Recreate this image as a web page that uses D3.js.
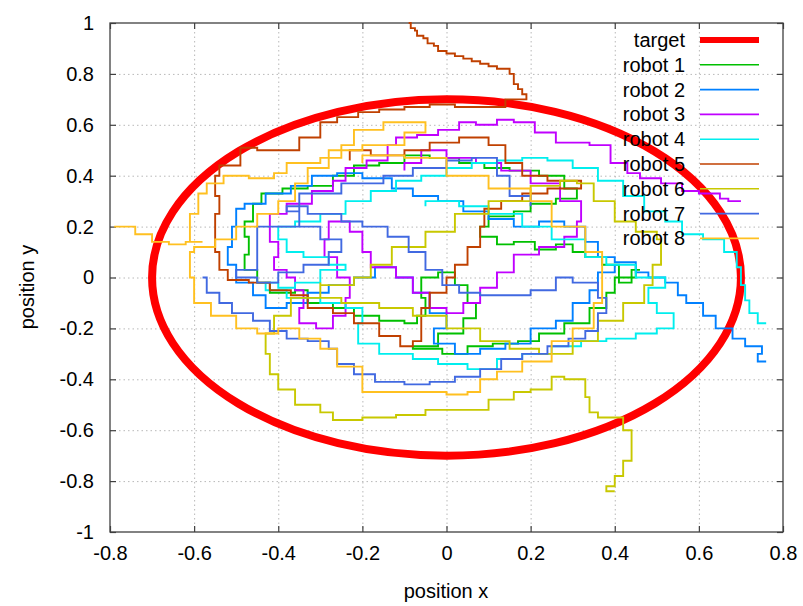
<!DOCTYPE html>
<meta charset="utf-8">
<style>
  body { margin: 0; background: #fff; }
  text { font-family: "Liberation Sans", Arial, sans-serif; font-size: 20px; fill: #000; }
</style>
<svg width="803" height="606"></svg>
<script src="https://d3js.org/d3.v7.min.js"></script>
<script>

var xTicks = [-0.8, -0.6, -0.4, -0.2, 0, 0.2, 0.4, 0.6, 0.8],
    yTicks = [-1, -0.8, -0.6, -0.4, -0.2, 0, 0.2, 0.4, 0.6, 0.8, 1];

var target = {cx: 0, cy: 0, r: 0.7};

var names = ["robot 1", "robot 2", "robot 3", "robot 4", "robot 5", "robot 6", "robot 7", "robot 8"],
    colors = ["#00c000", "#0080ff", "#c000ff", "#00eeee", "#c04000", "#c8c800", "#4169e1", "#ffc020"];

// trajectories (x, y)
var robot1 = [[0.46,0.03],[0.44,-0.02],[0.41,0.05],[0.37,0.08],[0.33,0.1],[0.3,0.13],[0.26,0.11],[0.21,0.14],[0.16,0.13],[0.12,0.16],[0.08,0.2],[0.1,0.24],[0.16,0.26],[0.2,0.29],[0.26,0.31],[0.31,0.35],[0.28,0.4],[0.22,0.42],[0.15,0.43],[0.09,0.45],[0.03,0.47],[-0.04,0.48],[-0.1,0.45],[-0.16,0.44],[-0.22,0.4],[-0.27,0.36],[-0.33,0.35],[-0.39,0.33],[-0.44,0.29],[-0.46,0.22],[-0.48,0.16],[-0.47,0.09],[-0.48,0.03],[-0.45,-0.02],[-0.42,-0.06],[-0.36,-0.05],[-0.33,-0.1],[-0.27,-0.12],[-0.22,-0.15],[-0.16,-0.17],[-0.1,-0.18],[-0.07,-0.15],[-0.05,-0.08],[-0.06,0.0],[-0.02,0.02],[0.02,-0.03],[0.05,-0.1],[0.07,-0.16],[0.04,-0.22],[-0.02,-0.27],[-0.08,-0.28],[-0.01,-0.3],[0.05,-0.27],[0.11,-0.26],[0.17,-0.25],[0.22,-0.22],[0.28,-0.18],[0.34,-0.12],[0.38,-0.06],[0.4,0.0],[0.45,0.05]];

var robot2 = [[0.76,-0.33],[0.74,-0.3],[0.75,-0.27],[0.71,-0.24],[0.68,-0.2],[0.64,-0.15],[0.61,-0.1],[0.57,-0.07],[0.55,-0.02],[0.52,0.0],[0.48,0.02],[0.45,0.06],[0.4,0.08],[0.36,0.14],[0.33,0.2],[0.28,0.22],[0.22,0.2],[0.16,0.23],[0.1,0.26],[0.04,0.3],[-0.02,0.32],[-0.08,0.35],[-0.13,0.39],[-0.2,0.41],[-0.26,0.4],[-0.32,0.36],[-0.37,0.33],[-0.43,0.29],[-0.48,0.27],[-0.5,0.2],[-0.51,0.12],[-0.52,0.05],[-0.5,-0.02],[-0.46,-0.07],[-0.43,-0.12],[-0.38,-0.1],[-0.33,-0.06],[-0.28,-0.03],[-0.22,0.0],[-0.17,0.04],[-0.12,0.0],[-0.08,-0.06],[-0.04,-0.14],[0.0,-0.2],[-0.03,-0.26],[0.02,-0.3],[0.08,-0.28],[0.14,-0.26],[0.2,-0.2],[0.26,-0.17],[0.3,-0.1],[0.34,-0.05],[0.36,0.02],[0.4,0.05]];

var robot3 = [[0.7,0.3],[0.67,0.31],[0.65,0.33],[0.6,0.34],[0.56,0.37],[0.51,0.39],[0.46,0.41],[0.43,0.45],[0.39,0.52],[0.34,0.53],[0.28,0.53],[0.26,0.57],[0.21,0.61],[0.16,0.62],[0.12,0.6],[0.07,0.61],[0.03,0.58],[-0.02,0.56],[-0.07,0.55],[-0.12,0.52],[-0.14,0.46],[-0.19,0.43],[-0.24,0.38],[-0.27,0.34],[-0.32,0.29],[-0.38,0.25],[-0.42,0.21],[-0.42,0.14],[-0.4,0.08],[-0.41,0.03],[-0.38,0.0],[-0.36,-0.05],[-0.34,-0.12],[-0.35,-0.18],[-0.31,-0.2],[-0.27,-0.15],[-0.24,-0.08],[-0.23,0.0],[-0.26,0.08],[-0.29,0.15],[-0.28,0.22],[-0.23,0.18],[-0.2,0.1],[-0.18,0.04],[-0.12,0.0],[-0.08,-0.06],[-0.04,-0.12],[0.0,-0.14],[0.04,-0.1],[0.08,-0.04],[0.12,0.02],[0.16,0.09],[0.22,0.12],[0.28,0.16],[0.31,0.22],[0.32,0.3],[0.27,0.37],[0.2,0.42],[0.13,0.45],[0.07,0.47],[0.0,0.5],[-0.06,0.45],[-0.1,0.42]];

var robot4 = [[0.76,-0.18],[0.74,-0.14],[0.72,-0.09],[0.71,-0.03],[0.7,0.04],[0.69,0.1],[0.66,0.15],[0.61,0.17],[0.56,0.22],[0.52,0.26],[0.47,0.32],[0.42,0.38],[0.36,0.43],[0.3,0.46],[0.24,0.47],[0.18,0.46],[0.12,0.45],[0.06,0.43],[0.0,0.4],[-0.06,0.38],[-0.12,0.34],[-0.18,0.3],[-0.24,0.25],[-0.3,0.22],[-0.36,0.2],[-0.4,0.15],[-0.38,0.1],[-0.34,0.08],[-0.28,0.05],[-0.24,0.03],[-0.3,-0.02],[-0.36,-0.04],[-0.4,-0.02],[-0.43,-0.05],[-0.38,-0.08],[-0.3,-0.1],[-0.24,-0.12],[-0.2,-0.18],[-0.21,-0.26],[-0.16,-0.3],[-0.08,-0.32],[-0.02,-0.34],[0.05,-0.36],[0.12,-0.32],[0.18,-0.3],[0.25,-0.27],[0.32,-0.25],[0.38,-0.24],[0.45,-0.22],[0.5,-0.2],[0.54,-0.14],[0.5,-0.1],[0.48,-0.04],[0.52,0.0],[0.45,0.05],[0.38,0.08],[0.33,0.15],[0.25,0.2],[0.18,0.25],[0.1,0.28],[0.03,0.3],[-0.05,0.28]];

var robot5 = [[-0.09,1.0],[-0.085,0.98],[-0.075,0.97],[-0.07,0.95],[-0.055,0.94],[-0.045,0.92],[-0.03,0.91],[-0.02,0.89],[0.0,0.88],[0.02,0.87],[0.04,0.86],[0.06,0.85],[0.08,0.84],[0.1,0.83],[0.12,0.82],[0.15,0.8],[0.16,0.78],[0.16,0.76],[0.17,0.74],[0.18,0.72],[0.19,0.7],[0.14,0.67],[0.08,0.67],[0.02,0.68],[-0.04,0.67],[-0.1,0.66],[-0.16,0.65],[-0.21,0.63],[-0.26,0.61],[-0.3,0.55],[-0.35,0.5],[-0.4,0.5],[-0.45,0.51],[-0.49,0.44],[-0.54,0.4],[-0.55,0.32],[-0.54,0.25],[-0.55,0.18],[-0.55,0.1],[-0.54,0.03],[-0.52,-0.01],[-0.47,-0.02],[-0.42,-0.05],[-0.37,-0.07],[-0.33,-0.12],[-0.27,-0.14],[-0.22,-0.18],[-0.16,-0.23],[-0.11,-0.27],[-0.08,-0.25],[-0.06,-0.18],[-0.06,-0.12],[-0.04,-0.06],[0.0,0.0],[0.02,0.05],[0.05,0.12],[0.08,0.2],[0.09,0.27],[0.13,0.3],[0.18,0.33],[0.24,0.35],[0.3,0.35],[0.32,0.38],[0.24,0.4],[0.18,0.45],[0.14,0.52],[0.1,0.55],[0.03,0.53],[-0.04,0.5],[-0.1,0.48],[-0.18,0.5],[-0.23,0.46]];

var robot6 = [[0.4,-0.84],[0.38,-0.82],[0.4,-0.78],[0.42,-0.72],[0.44,-0.66],[0.44,-0.6],[0.42,-0.55],[0.36,-0.53],[0.34,-0.47],[0.33,-0.4],[0.28,-0.39],[0.25,-0.44],[0.2,-0.45],[0.16,-0.48],[0.1,-0.52],[0.03,-0.52],[-0.05,-0.54],[-0.12,-0.55],[-0.2,-0.56],[-0.27,-0.53],[-0.3,-0.5],[-0.36,-0.44],[-0.4,-0.38],[-0.42,-0.3],[-0.43,-0.22],[-0.41,-0.15],[-0.37,-0.08],[-0.3,-0.03],[-0.22,0.0],[-0.18,0.05],[-0.13,0.12],[-0.05,0.18],[0.02,0.25],[0.1,0.3],[0.2,0.36],[0.27,0.38],[0.31,0.37],[0.35,0.3],[0.4,0.22],[0.45,0.18],[0.5,0.15],[0.51,0.05],[0.49,-0.03],[0.47,-0.1],[0.42,-0.17],[0.36,-0.25],[0.3,-0.3],[0.22,-0.28],[0.15,-0.25],[0.08,-0.2],[0.0,-0.15],[-0.08,-0.12],[-0.16,-0.1],[-0.25,-0.08],[-0.3,-0.02]];

var robot7 = [[-0.58,0.0],[-0.57,-0.06],[-0.54,-0.1],[-0.51,-0.14],[-0.46,-0.17],[-0.42,-0.21],[-0.38,-0.24],[-0.33,-0.25],[-0.28,-0.28],[-0.26,-0.34],[-0.22,-0.38],[-0.17,-0.41],[-0.1,-0.42],[-0.04,-0.41],[0.02,-0.39],[0.08,-0.36],[0.13,-0.32],[0.18,-0.3],[0.24,-0.27],[0.29,-0.24],[0.33,-0.21],[0.36,-0.14],[0.38,-0.08],[0.36,-0.02],[0.3,0.0],[0.26,-0.05],[0.2,-0.07],[0.14,-0.07],[0.08,-0.06],[0.03,-0.03],[-0.01,0.03],[-0.05,0.1],[-0.09,0.16],[-0.14,0.2],[-0.2,0.22],[-0.25,0.25],[-0.33,0.28],[-0.38,0.26],[-0.35,0.2],[-0.3,0.15],[-0.25,0.1],[-0.28,0.05],[-0.34,0.02],[-0.4,-0.02],[-0.45,0.0],[-0.5,0.03],[-0.45,0.2],[-0.35,0.33],[-0.25,0.37],[-0.15,0.4],[-0.08,0.43],[0.0,0.46],[0.06,0.47],[0.12,0.4],[0.15,0.32],[0.2,0.28]];

var robot8 = [[-0.79,0.2],[-0.76,0.2],[-0.74,0.17],[-0.7,0.14],[-0.66,0.13],[-0.62,0.14],[-0.58,0.14],[-0.61,0.18],[-0.61,0.25],[-0.59,0.33],[-0.57,0.37],[-0.53,0.4],[-0.47,0.39],[-0.41,0.41],[-0.38,0.45],[-0.3,0.47],[-0.25,0.52],[-0.22,0.58],[-0.15,0.61],[-0.08,0.61],[-0.05,0.57],[-0.1,0.52],[-0.2,0.5],[-0.28,0.43],[-0.33,0.37],[-0.36,0.3],[-0.4,0.25],[-0.45,0.2],[-0.5,0.15],[-0.55,0.12],[-0.6,0.1],[-0.61,0.0],[-0.6,-0.1],[-0.56,-0.15],[-0.5,-0.2],[-0.45,-0.22],[-0.4,-0.2],[-0.35,-0.24],[-0.3,-0.28],[-0.26,-0.35],[-0.2,-0.45],[-0.15,-0.45],[-0.08,-0.45],[0.0,-0.46],[0.05,-0.45],[0.08,-0.4],[0.12,-0.37],[0.18,-0.33],[0.25,-0.25],[0.3,-0.2],[0.35,-0.1],[0.37,0.0],[0.37,0.1],[0.33,0.2],[0.25,0.3],[0.2,0.35],[0.1,0.4],[0.0,0.47],[-0.1,0.48],[-0.2,0.45]];

var robots = [robot1, robot2, robot3, robot4, robot5, robot6, robot7, robot8];

var svg = d3.select("svg"),
    plotLeft = 110, plotRight = 783, plotTop = 23, plotBottom = 532;

var x = d3.scaleLinear().domain([-0.8, 0.8]).range([plotLeft, plotRight]),
    y = d3.scaleLinear().domain([-1, 1]).range([plotBottom, plotTop]);

svg.append("rect").attr("width", 803).attr("height", 606).attr("fill", "#fff");

// grid
var grid = svg.append("g").attr("stroke", "#b8b8b8").attr("stroke-width", 1).attr("stroke-dasharray", "1.5,3");
grid.selectAll(".gx").data(xTicks.slice(1, -1)).enter().append("line")
    .attr("x1", function(d) { return x(d) + 0.5; }).attr("x2", function(d) { return x(d) + 0.5; })
    .attr("y1", plotTop).attr("y2", plotBottom);
grid.selectAll(".gy").data(yTicks.slice(1, -1)).enter().append("line")
    .attr("y1", function(d) { return y(d) + 0.5; }).attr("y2", function(d) { return y(d) + 0.5; })
    .attr("x1", plotLeft).attr("x2", plotRight);

// axes with mirrored inward ticks
var axisColor = "#404040";
function styleAxis(g) {
  g.select(".domain").remove();
  g.selectAll(".tick line").attr("stroke", axisColor).attr("stroke-width", 1.2);
  g.selectAll(".tick text").style("font-family", "Liberation Sans, Arial, sans-serif").style("font-size", "20px").attr("fill", "#000");
}
var fmt = function(d) { return String(+d.toFixed(1)); };

svg.append("g").attr("transform", "translate(0," + plotBottom + ")")
    .call(d3.axisBottom(x).tickValues(xTicks).tickFormat(fmt).tickSizeInner(-6).tickSizeOuter(0).tickPadding(14))
    .call(styleAxis);
svg.append("g").attr("transform", "translate(0," + plotTop + ")")
    .call(d3.axisTop(x).tickValues(xTicks).tickFormat("").tickSizeInner(-6).tickSizeOuter(0))
    .call(styleAxis);
svg.append("g").attr("transform", "translate(" + plotLeft + ",0)")
    .call(d3.axisLeft(y).tickValues(yTicks).tickFormat(fmt).tickSizeInner(-6).tickSizeOuter(0).tickPadding(16))
    .call(styleAxis);
svg.append("g").attr("transform", "translate(" + plotRight + ",0)")
    .call(d3.axisRight(y).tickValues(yTicks).tickFormat("").tickSizeInner(-6).tickSizeOuter(0))
    .call(styleAxis);

svg.append("rect").attr("x", plotLeft).attr("y", plotTop).attr("width", plotRight - plotLeft).attr("height", plotBottom - plotTop)
    .attr("fill", "none").attr("stroke", axisColor).attr("stroke-width", 1.3);

// target
svg.append("ellipse")
    .attr("cx", x(target.cx)).attr("cy", y(target.cy))
    .attr("rx", x(target.r) - x(0)).attr("ry", y(0) - y(target.r))
    .attr("fill", "none").attr("stroke", "#ff0000").attr("stroke-width", 8);

// robots
var line = d3.line().x(function(d) { return x(d[0]); }).y(function(d) { return y(d[1]); }).curve(d3.curveStepAfter);
svg.append("g").selectAll("path").data(robots).enter().append("path")
    .attr("d", line)
    .attr("fill", "none")
    .attr("stroke", function(d, i) { return colors[i]; })
    .attr("stroke-width", 1.9)
    .attr("stroke-linejoin", "miter");

// legend
var legend = svg.append("g"),
    keys = ["target"].concat(names),
    keyColors = ["#ff0000"].concat(colors);
var row = legend.selectAll("g").data(keys).enter().append("g")
    .attr("transform", function(d, i) { return "translate(0," + (40 + i * 24.8) + ")"; });
row.append("text").attr("x", 685).attr("y", 7).attr("text-anchor", "end").text(function(d) { return d; });
row.append("line").attr("x1", 700).attr("x2", 759).attr("y1", 0).attr("y2", 0)
    .attr("stroke", function(d, i) { return keyColors[i]; })
    .attr("stroke-width", function(d, i) { return i === 0 ? 6 : 1.6; });

// axis titles
svg.append("text").attr("x", 446).attr("y", 598).attr("text-anchor", "middle").text("position x");
svg.append("text").attr("transform", "translate(34,287) rotate(-90)").attr("text-anchor", "middle").text("position y");

</script>
